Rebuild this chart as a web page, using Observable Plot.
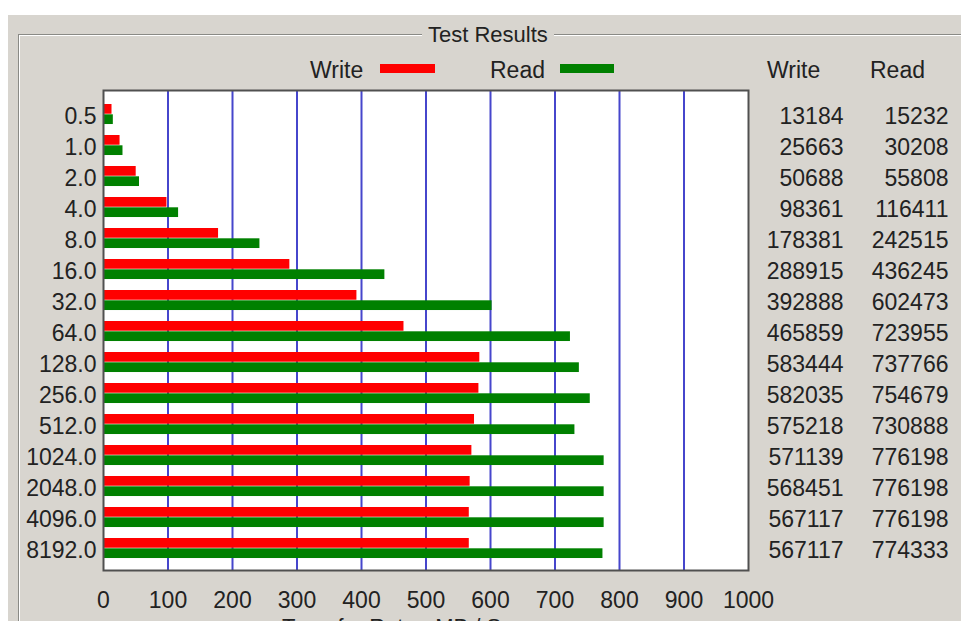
<!DOCTYPE html>
<html>
<head>
<meta charset="utf-8">
<script src="https://cdn.jsdelivr.net/npm/d3@7"></script>
<script src="https://cdn.jsdelivr.net/npm/@observablehq/plot@0.6"></script>
<style>
  html, body { margin: 0; padding: 0; background: #ffffff; }
  #wrap { position: relative; width: 961px; height: 621px; overflow: hidden; font-family: "Liberation Sans", Arial, sans-serif; color: #222; }
  #panel { position: absolute; left: 8px; top: 15px; width: 953px; height: 606px; background: #d8d5cf; }
  #gbox { position: absolute; left: 18px; top: 34px; width: 960px; height: 700px; border-top: 1px solid #8a8a86; border-left: 1px solid #8a8a86; box-shadow: inset 1px 1px 0 #ffffff; }
  .lbl { position: absolute; font-size: 23px; line-height: 1; white-space: nowrap; }
  #title { left: 422px; top: 24px; padding: 0 6px; background: #d8d5cf; font-size: 22px; }
  .sw { position: absolute; height: 9px; }
  #chart { position: absolute; left: 0; top: 0; }
</style>
</head>
<body>
<div id="wrap">
  <div id="panel"></div>
  <div id="gbox"></div>
  <div class="lbl" id="title">Test Results</div>
  <div class="lbl" style="left:310px; top:59px;">Write</div>
  <div class="sw" style="left:380px; top:64px; width:55px; background:#ff0000;"></div>
  <div class="lbl" style="left:490px; top:59px;">Read</div>
  <div class="sw" style="left:560px; top:64px; width:54px; background:#008000;"></div>
  <div class="lbl" style="left:767px; top:59px;">Write</div>
  <div class="lbl" style="left:870px; top:59px;">Read</div>
  <div class="lbl" style="left:282px; top:616px; font-size:22px;">Transfer Rate - MB / Sec</div>
  <div id="chart"></div>
</div>
<script>
const sizes = ["0.5","1.0","2.0","4.0","8.0","16.0","32.0","64.0","128.0","256.0","512.0","1024.0","2048.0","4096.0","8192.0"];
const writeKB = [13184,25663,50688,98361,178381,288915,392888,465859,583444,582035,575218,571139,568451,567117,567117];
const readKB = [15232,30208,55808,116411,242515,436245,602473,723955,737766,754679,730888,776198,776198,776198,774333];
const xTicks = [0,100,200,300,400,500,600,700,800,900,1000];
const gridTicks = [100,200,300,400,500,600,700,800,900];

const rows = sizes.map((s, i) => ({size: s, write: writeKB[i], read: readKB[i], writeMB: writeKB[i] / 1000, readMB: readKB[i] / 1000}));

const band = (566.6 - 93) / sizes.length;
const barH = 10.3;
const topOff = 7;

const chart = Plot.plot({
  width: 961,
  height: 621,
  marginTop: 90,
  marginBottom: 51,
  marginLeft: 103,
  marginRight: 213,
  style: {background: "transparent", fontSize: "23px", fontFamily: "Liberation Sans, Arial, sans-serif", color: "#222"},
  x: {domain: [0, 1000], axis: null, label: null},
  y: {domain: sizes, range: [93, 566.6], padding: 0, axis: null, label: null},
  marks: [
    Plot.frame({fill: "#ffffff"}),
    Plot.ruleX(gridTicks, {stroke: "#4646cc", strokeWidth: 2}),
    Plot.barX(rows, {x: "writeMB", y: "size", fill: "#ff0000", insetTop: topOff, insetBottom: band - topOff - barH}),
    Plot.barX(rows, {x: "readMB", y: "size", fill: "#008000", insetTop: topOff + barH, insetBottom: band - topOff - 2 * barH}),
    Plot.frame({stroke: "#505050", strokeWidth: 2}),
    Plot.axisY(sizes, {tickSize: 0, tickPadding: 7, dy: 4, fontSize: 23, fill: "#222", label: null}),
    Plot.axisX(xTicks, {anchor: "bottom", tickSize: 0, tickPadding: 21, tickFormat: d => String(d), fontSize: 23, fill: "#222", label: null}),
    Plot.text(rows, {y: "size", text: d => String(d.write), frameAnchor: "right", dx: 95, dy: 4, textAnchor: "end", fontSize: 23, fill: "#222"}),
    Plot.text(rows, {y: "size", text: d => String(d.read), frameAnchor: "right", dx: 200, dy: 4, textAnchor: "end", fontSize: 23, fill: "#222"})
  ]
});
document.getElementById("chart").appendChild(chart);
</script>
</body>
</html>
